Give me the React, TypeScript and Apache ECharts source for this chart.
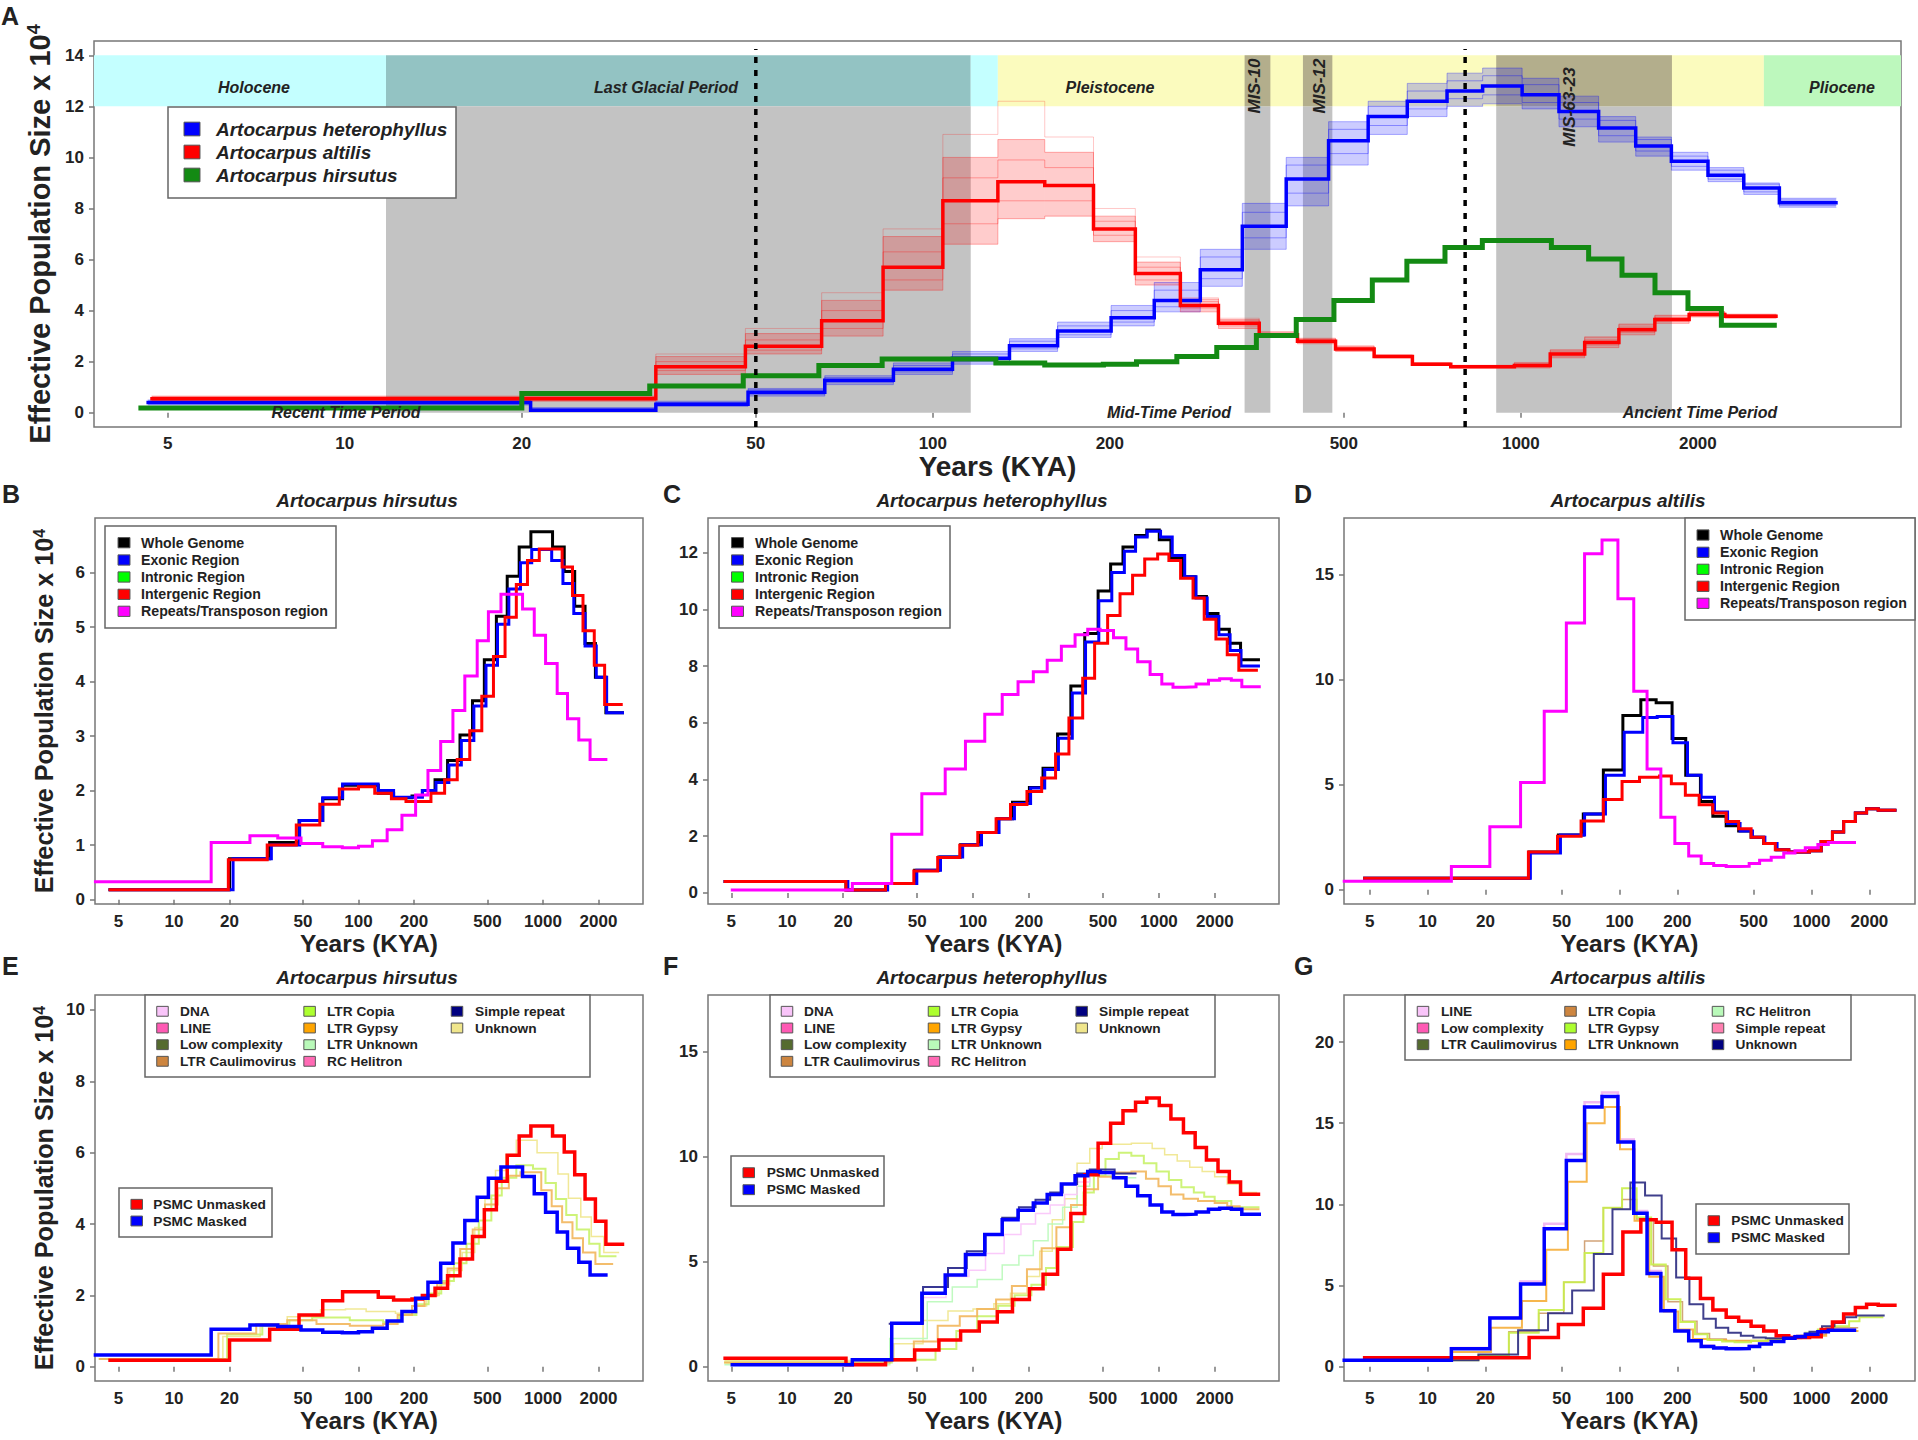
import React, { useEffect, useRef } from "react";
import * as echarts from "echarts";

const xTickValues = [5, 10, 20, 50, 100, 200, 500, 1000, 2000];

// A. hirsutus
const hirsutusX = [4.5, 20, 33, 47.6, 64, 82, 104, 128, 155, 195, 222, 260, 304, 355, 415, 481, 559, 640, 743, 860, 1127, 1304, 1486, 1691, 1924, 2193, 2698];
const hirsutusWhole = [0.18, 0.75, 1.05, 1.45, 1.85, 2.1, 2.1, 1.95, 1.87, 1.9, 2.0, 2.2, 2.55, 3.02, 3.65, 4.4, 5.2, 5.93, 6.47, 6.75, 6.47, 6.02, 5.38, 4.7, 4.08, 3.43];
const hirsutusExonicX = [4.5, 20.9, 33.7, 48, 64, 82, 127.7, 155, 222, 263, 309, 361, 422, 491, 567, 653, 755, 869, 1115, 1283, 1469, 1691, 1945, 2214, 2698];
const hirsutusExonic = [0.18, 0.75, 1.0, 1.45, 1.87, 2.12, 2.0, 1.88, 2.0, 2.15, 2.47, 2.92, 3.55, 4.3, 5.05, 5.7, 6.18, 6.42, 6.22, 5.8, 5.25, 4.65, 4.08, 3.43];
const hirsutusIntergenicX = [4.5, 19.7, 32, 46, 61.7, 78.7, 100, 122.5, 150.8, 180.9, 247, 293, 343, 401, 466, 539, 623, 717, 824, 955, 1270, 1446, 1648, 1897, 2159, 2656];
const hirsutusIntergenic = [0.18, 0.73, 1.0, 1.37, 1.75, 2.03, 2.07, 1.95, 1.85, 1.8, 1.95, 2.2, 2.57, 3.1, 3.73, 4.46, 5.18, 5.78, 6.22, 6.43, 6.1, 5.58, 4.93, 4.3, 3.58];
const hirsutusRepeatX = [3.75, 15.9, 25.8, 36.5, 48.8, 64, 81.7, 100, 119, 143, 172, 204, 238, 279, 325, 377, 440, 506, 592, 775, 897, 1033, 1194, 1358, 1564, 1800, 2193];
const hirsutusRepeat = [0.33, 1.05, 1.17, 1.13, 1.03, 0.97, 0.95, 0.98, 1.08, 1.28, 1.55, 1.92, 2.37, 2.9, 3.47, 4.1, 4.75, 5.28, 5.6, 5.33, 4.85, 4.33, 3.78, 3.32, 2.93, 2.57];
const hirsutusGypsyX = [3.96, 17.4, 27.9, 41.1, 59.2, 89.7, 136, 163, 195, 228, 267, 304, 356, 416, 485, 568, 653, 755, 979, 1115, 1270, 1445, 1648, 1924, 2371];
const hirsutusGypsy = [0.22, 0.93, 1.2, 1.3, 1.2, 1.15, 1.2, 1.45, 1.7, 2.0, 2.35, 2.75, 3.3, 3.85, 4.55, 5.0, 5.35, 5.45, 4.95, 4.5, 4.05, 3.6, 3.2, 2.88];
const hirsutusUnknownX = [3.96, 18.4, 29.3, 41.1, 62.3, 85, 110, 158.6, 206, 234, 274, 312, 365, 427, 485, 553, 630, 717, 929, 1205, 1374, 1603, 1828, 2137, 2563];
const hirsutusUnknown = [0.22, 0.85, 1.15, 1.4, 1.6, 1.62, 1.55, 1.5, 1.7, 2.0, 2.3, 2.7, 3.2, 3.9, 4.7, 5.5, 5.95, 6.35, 6.0, 5.4, 4.72, 4.2, 3.65, 3.2];
const hirsutusCopiaX = [3.96, 19.4, 30.1, 42.2, 56.1, 89.7, 136, 167, 206, 240, 281, 329, 385, 449, 525, 598, 717, 883, 1032, 1175, 1337, 1524, 1780, 2028, 2472];
const hirsutusCopia = [0.22, 0.9, 1.15, 1.3, 1.38, 1.3, 1.25, 1.45, 1.75, 2.05, 2.4, 2.9, 3.45, 4.1, 4.8, 5.3, 5.65, 5.55, 5.15, 4.7, 4.25, 3.85, 3.45, 3.1];

// A. heterophyllus
const heteroX = [4.63, 20.7, 33.8, 48.5, 65.5, 85.7, 108, 135, 163, 201, 238, 285, 336, 399, 471, 550, 641, 749, 861, 1005, 1161, 1356, 1568, 1803, 2081, 2394, 2752, 3435];
const heteroWhole = [0.4, 0.1, 0.33, 0.8, 1.27, 1.7, 2.13, 2.62, 3.2, 3.72, 4.4, 5.6, 7.3, 9.15, 10.65, 11.6, 12.2, 12.6, 12.8, 12.45, 11.8, 11.15, 10.45, 9.85, 9.3, 8.8, 8.22];
const heteroHigh = [0.5, 0.2, 0.45, 0.95, 1.45, 1.95, 2.4, 2.9, 3.55, 4.2, 5.1, 6.4, 8.2, 10.0, 11.4, 12.2, 12.9, 13.3, 13.5, 13.1, 12.4, 11.6, 10.8, 10.2, 9.6, 9.0, 8.4];
const heteroLow = [0.3, 0.05, 0.25, 0.65, 1.1, 1.5, 1.9, 2.4, 2.95, 3.4, 3.95, 4.95, 6.4, 8.1, 9.7, 10.9, 11.6, 12.0, 12.1, 11.9, 11.2, 10.6, 10.05, 9.5, 9.05, 8.55, 8.05];
const heteroRepA = [0.45, 0.15, 0.4, 0.9, 1.38, 1.85, 2.3, 2.8, 3.4, 4.0, 4.8, 6.1, 7.85, 9.7, 11.1, 12.0, 12.6, 13.0, 13.2, 12.85, 12.15, 11.45, 10.7, 10.05, 9.5, 8.95, 8.33];
const heteroRepB = [0.35, 0.08, 0.28, 0.72, 1.18, 1.6, 2.0, 2.5, 3.05, 3.55, 4.15, 5.25, 6.85, 8.6, 10.15, 11.25, 11.9, 12.3, 12.45, 12.15, 11.5, 10.85, 10.25, 9.65, 9.15, 8.65, 8.12];
const heteroExonicX = [4.63, 21.2, 34.7, 49.8, 66.8, 87.9, 111, 138, 167, 204, 243, 288, 342, 403, 475, 558, 652, 749, 865, 1021, 1180, 1377, 1585, 1820, 2104, 2417, 2767, 3435];
const heteroExonic = [0.4, 0.1, 0.33, 0.8, 1.27, 1.7, 2.13, 2.62, 3.15, 3.7, 4.35, 5.45, 7.05, 8.85, 10.3, 11.3, 12.05, 12.55, 12.75, 12.55, 11.9, 11.15, 10.4, 9.75, 9.1, 8.55, 8.0];
const heteroIntergenicX = [4.63, 20.7, 33.8, 48, 64.5, 84.8, 106, 133, 159, 195, 234, 278, 328, 389, 451, 530, 618, 722, 839, 985, 1132, 1309, 1527, 1754, 2028, 2333, 2693, 3348];
const heteroIntergenic = [0.4, 0.1, 0.33, 0.77, 1.25, 1.68, 2.13, 2.62, 3.12, 3.58, 4.05, 4.9, 6.17, 7.57, 8.8, 9.78, 10.55, 11.2, 11.77, 11.95, 11.72, 11.1, 10.4, 9.65, 8.95, 8.4, 7.85];
const heteroRepeatX = [5.06, 22.4, 36.5, 53, 70.8, 91, 115.6, 143.5, 174.6, 211, 250.6, 298.7, 354, 414, 483, 570, 665, 769, 897, 1037, 1191, 1377, 1585, 1849, 2123, 2454, 2795, 3470];
const heteroRepeat = [0.1, 0.33, 2.07, 3.5, 4.37, 5.35, 6.3, 7.0, 7.45, 7.8, 8.2, 8.7, 9.1, 9.3, 9.25, 9.0, 8.6, 8.15, 7.7, 7.37, 7.25, 7.27, 7.37, 7.5, 7.55, 7.5, 7.27];
const heteroGypsyX = [4.63, 35.6, 48, 64.5, 84.8, 105.2, 133, 161.8, 195, 234, 280.8, 336.6, 403, 471, 563, 711, 852, 995, 1161, 1356, 1625, 1997, 2333, 2722, 3435];
const heteroGypsy = [0.2, 0.3, 1.2, 1.95, 2.4, 2.75, 3.2, 3.85, 4.65, 5.65, 6.65, 7.7, 8.45, 9.05, 9.25, 9.3, 8.95, 8.6, 8.2, 8.0, 7.9, 7.8, 7.65, 7.5];
const heteroCopiaX = [4.63, 36.5, 62.8, 81.3, 105.2, 136.4, 167.4, 206, 246.8, 280.8, 345, 392.6, 446.7, 516, 609, 711, 830, 970, 1132, 1321, 1542, 1754, 1997, 2454, 3435];
const heteroCopia = [0.2, 0.33, 0.85, 1.7, 2.4, 2.9, 3.4, 3.9, 4.7, 5.7, 6.9, 8.3, 9.1, 9.9, 10.2, 10.05, 9.7, 9.3, 8.9, 8.55, 8.3, 8.1, 7.9, 7.6];
const heteroUnknownX = [4.63, 37.5, 53.8, 73.3, 100, 129.4, 159, 195, 228.4, 266.8, 311, 363, 424.6, 495.5, 711, 920.6, 1074, 1255, 1466, 1710, 1997, 2333, 2722, 3348];
const heteroUnknown = [0.3, 1.1, 2.2, 2.65, 2.75, 3.0, 3.5, 4.3, 5.5, 7.0, 8.0, 9.7, 10.4, 10.6, 10.65, 10.4, 10.1, 9.8, 9.5, 9.3, 9.05, 8.7, 8.3];
const heteroLtrUnknownX = [4.63, 35.6, 56.7, 77.3, 105.2, 143.5, 176.5, 211, 253.4, 303.5, 363, 424.6, 550, 749];
const heteroLtrUnknown = [0.1, 1.35, 3.1, 3.8, 4.15, 4.85, 5.3, 6.0, 6.8, 7.6, 8.6, 9.1, 9.0];
const heteroDnaX = [35.6, 53.8, 71.5, 95, 116.7, 147, 181, 216.8, 260, 311, 363, 424.6, 749];
const heteroDna = [2.05, 3.3, 4.3, 4.6, 5.4, 6.3, 6.8, 7.3, 7.7, 8.2, 8.8, 9.2];
const heteroSimpleX = [35.6, 53.8, 73.3, 92.5, 116.7, 143.5, 176.5, 216.8, 260, 303.5, 363, 424.6, 578, 749];
const heteroSimple = [2.05, 3.8, 4.7, 5.5, 6.3, 7.1, 7.6, 7.95, 8.3, 8.7, 9.2, 9.4, 9.2];

// A. altilis
const altilisX = [4.7, 33.8, 48, 64.7, 82.3, 104, 129, 155, 187.6, 221, 263.6, 306, 359, 417, 484, 563, 654, 760, 975, 1122, 1284, 1468, 1690, 1933, 2223, 2716];
const altilisWhole = [0.55, 1.8, 2.6, 3.6, 5.7, 8.3, 9.05, 8.9, 7.2, 5.45, 4.2, 3.5, 3.05, 2.8, 2.5, 2.2, 1.9, 1.8, 1.85, 2.3, 2.75, 3.25, 3.65, 3.85, 3.78];
const altilisHigh = [0.65, 2.2, 3.1, 4.4, 6.9, 10.0, 10.7, 10.2, 7.7, 5.9, 4.45, 3.65, 3.15, 2.9, 2.6, 2.25, 1.95, 1.85, 1.95, 2.45, 2.95, 3.45, 3.8, 3.95, 3.85];
const altilisLow = [0.45, 1.5, 2.3, 3.0, 4.8, 6.6, 7.6, 7.7, 6.7, 5.0, 3.95, 3.3, 2.95, 2.7, 2.4, 2.15, 1.85, 1.75, 1.75, 2.15, 2.55, 3.05, 3.5, 3.75, 3.7];
const altilisRepA = [0.6, 2.0, 2.85, 4.0, 6.3, 9.2, 9.9, 9.6, 7.5, 5.7, 4.35, 3.6, 3.1, 2.85, 2.55, 2.22, 1.93, 1.83, 1.9, 2.38, 2.85, 3.35, 3.72, 3.9, 3.82];
const altilisRepB = [0.5, 1.65, 2.45, 3.3, 5.2, 7.4, 8.3, 8.3, 6.95, 5.2, 4.1, 3.4, 3.0, 2.75, 2.45, 2.18, 1.87, 1.77, 1.8, 2.22, 2.65, 3.15, 3.58, 3.8, 3.74];
const altilisRepC = [0.62, 2.3, 3.3, 4.7, 7.2, 10.9, 12.2, 10.8, 8.0, 6.1, 4.5, 3.7, 3.18, 2.92, 2.62, 2.27, 1.96, 1.86, 1.97, 2.47, 2.98, 3.48, 3.82, 3.96, 3.86];
const altilisExonicX = [4.7, 34.3, 49.2, 65.7, 84.4, 105.7, 132, 157, 189.6, 225.7, 266, 312, 365, 424, 492, 571, 661, 760, 975, 1122, 1284, 1468, 1690, 1933, 2223, 2716];
const altilisExonic = [0.55, 1.75, 2.6, 3.6, 5.45, 7.5, 8.2, 8.25, 7.0, 5.45, 4.4, 3.7, 3.15, 2.8, 2.5, 2.2, 1.9, 1.8, 1.85, 2.3, 2.75, 3.25, 3.65, 3.85, 3.78];
const altilisIntergenicX = [4.7, 33.5, 47.5, 63, 82.3, 103, 127, 161.5, 186, 220, 259.6, 306, 359, 417, 484, 563, 647, 760, 975, 1122, 1284, 1468, 1690, 1933, 2223, 2716];
const altilisIntergenic = [0.55, 1.8, 2.55, 3.27, 4.3, 5.15, 5.35, 5.42, 5.05, 4.5, 4.05, 3.65, 3.25, 2.9, 2.5, 2.2, 1.9, 1.8, 1.85, 2.3, 2.75, 3.25, 3.65, 3.85, 3.78];
const altilisRepeatX = [3.68, 13.3, 21.1, 30.5, 40.5, 52.8, 65.7, 81, 98, 118.5, 139, 164, 194, 229, 266, 309, 359, 417, 473, 536, 616, 716, 819, 927, 1078, 1222, 1672];
const altilisRepeat = [0.4, 1.1, 3.0, 5.1, 8.5, 12.7, 16.0, 16.65, 13.85, 9.45, 5.75, 3.45, 2.2, 1.6, 1.25, 1.15, 1.1, 1.12, 1.25, 1.4, 1.55, 1.75, 1.85, 2.0, 2.15, 2.25];
const altilisLine = [0.4, 1.15, 3.05, 5.25, 8.8, 13.1, 16.3, 16.9, 14, 9.6, 5.9, 3.5, 2.25, 1.65, 1.3, 1.2, 1.15, 1.17, 1.3, 1.45, 1.6, 1.8, 1.9, 2.05, 2.2, 2.3];
const altilisUnknownX = [3.68, 18.4, 29.6, 42.4, 56.6, 73.4, 91.8, 113.8, 135.7, 165.6, 197, 231, 273, 317, 368, 428, 497, 577, 705, 840, 975, 1133, 1315, 1492, 1707, 2373];
const altilisUnknown = [0.4, 0.75, 2.25, 3.3, 4.7, 6.95, 9.7, 11.35, 10.55, 7.9, 5.5, 3.85, 2.95, 2.4, 2.1, 1.9, 1.8, 1.75, 1.8, 1.9, 2.15, 2.5, 2.7, 3.05, 3.15];
const altilisGypsyX = [3.68, 18.4, 26.5, 37.9, 51.2, 65.7, 82.3, 103, 122.7, 146, 174, 207.4, 247, 287, 342, 397, 484, 592, 723, 927, 1078, 1315, 1568, 1775, 2337];
const altilisGypsy = [0.4, 0.7, 2.1, 3.5, 5.2, 7.0, 9.8, 11.0, 9.2, 6.3, 4.15, 2.75, 2.0, 1.65, 1.55, 1.5, 1.6, 1.7, 1.8, 2.1, 2.3, 2.5, 2.8, 3.05];
const altilisLtrUnknownX = [3.68, 13.3, 21.4, 31, 41.5, 53.8, 67.4, 83.6, 100.5, 119.6, 142.6, 170, 202, 241, 294, 359, 461, 592, 723, 883, 1191, 1733];
const altilisLtrUnknown = [0.4, 0.9, 2.4, 4.05, 7.2, 11.4, 15, 16, 13.4, 9, 5.55, 3.4, 2.3, 1.7, 1.65, 1.6, 1.6, 1.65, 1.75, 1.9, 2.2];
const altilisCopiaX = [3.68, 18.4, 26.5, 37.9, 51.2, 65.7, 82.3, 103, 122.7, 150, 178.5, 212.6, 253, 294, 359, 461, 592, 723, 927, 1191, 1733];
const altilisCopia = [0.4, 0.7, 2.15, 3.3, 5.2, 7.75, 9.8, 10.3, 9.1, 6.2, 4.0, 2.8, 2.05, 1.7, 1.6, 1.6, 1.7, 1.8, 2.0, 2.4];

// panel A background periods, KYA
const periodNames = ["Holocene", "Last Glacial Period", "Interglacial", "Pleistocene", "Pliocene"];
const periodEdges = [3.745, 11.75, 116, 129, 2590, 4431];
const periodColors = ["#c4ffff", "#93c3c3", "#c4ffff", "#fbfbbe", "#bdf8bd"];
const grayNames = ["MIS-10", "MIS-12", "MIS-63-23"];
const grayFrom = [339, 426, 908];
const grayTo = [375, 478, 1807];
const dashedAt = [50, 804];

const regionNames = ["Whole Genome", "Exonic Region", "Intronic Region", "Intergenic Region", "Repeats/Transposon region"];
const regionColors = ["#000000", "#0000ff", "#00ff00", "#ff0000", "#ff00ff"];
const repeatNames = ["DNA", "LINE", "Low complexity", "LTR Caulimovirus", "LTR Copia", "LTR Gypsy", "LTR Unknown", "RC Helitron", "Simple repeat", "Unknown"];
const repeatColors = ["#f9c4f9", "#ff5ab4", "#556b2f", "#cd853f", "#adff2f", "#ffa500", "#b9f9b9", "#ff69b4", "#000080", "#f0e68c"];
const altilisRepeatNames = ["LINE", "Low complexity", "LTR Caulimovirus", "LTR Copia", "LTR Gypsy", "LTR Unknown", "RC Helitron", "Simple repeat", "Unknown"];
const altilisRepeatColors = ["#f9c4f9", "#ff5ab4", "#556b2f", "#cd853f", "#adff2f", "#ffa500", "#b9f9b9", "#ff7fb0", "#000080"];
const psmcNames = ["PSMC Unmasked", "PSMC Masked"];
const psmcColors = ["#ff0000", "#0000ff"];
const speciesNames = ["Artocarpus heterophyllus", "Artocarpus altilis", "Artocarpus hirsutus"];
const speciesColors = ["#0000ff", "#ff0000", "#138a13"];

const FONT = "Liberation Sans";
const INK = "#222222";
const FRAME = "#777777";

const steps = (xs: number[], ys: number[]) => xs.map((x, i) => [x, ys[Math.min(i, ys.length - 1)]]);

const stepLine = (name: string, grid: number, xs: number[], ys: number[], color: string, width: number, opacity = 1, z = 3) => ({
  name,
  type: "line",
  step: "end",
  xAxisIndex: grid,
  yAxisIndex: grid,
  data: steps(xs, ys),
  showSymbol: false,
  symbol: "none",
  silent: true,
  z,
  lineStyle: { color, width, opacity, cap: "square", join: "miter" },
});

// replicate haze in panel A: one rect per step, spanning the spread of the bootstrap lines
const hazeRects = (name: string, xs: number[], low: number[], high: number[], color: string) => ({
  name,
  type: "custom",
  xAxisIndex: 0,
  yAxisIndex: 0,
  silent: true,
  z: 2,
  clip: true,
  data: low.map((l, i) => [xs[i], xs[i + 1], l, high[i]]),
  encode: { x: [0, 1], y: [2, 3] },
  renderItem: (_params: any, api: any) => {
    const a = api.coord([api.value(0), api.value(3)]);
    const b = api.coord([api.value(1), api.value(2)]);
    return {
      type: "rect",
      shape: { x: a[0], y: a[1], width: b[0] - a[0], height: b[1] - a[1] },
      style: { fill: color, opacity: 0.2 },
    };
  },
});

const panels = [
  { left: 94, top: 41, width: 1807, height: 386, x: [3.745, 4431], y: [-0.56, 14.56], ticks: [0, 2, 4, 6, 8, 10, 12, 14], size: 29, sup: 18, gap: 38, xGap: 17, margin: 8, yTitle: true },
  { left: 95, top: 518, width: 548, height: 386, x: [3.73, 3485], y: [-0.08, 7.0], ticks: [0, 1, 2, 3, 4, 5, 6], size: 25.2, sup: 16, gap: 38, xGap: 23, margin: 9, yTitle: true },
  { left: 708, top: 518, width: 571, height: 386, x: [3.745, 4431], y: [-0.39, 13.22], ticks: [0, 2, 4, 6, 8, 10, 12], size: 24.5, sup: 16, gap: 39, xGap: 23, margin: 9, yTitle: false },
  { left: 1344, top: 518, width: 571, height: 386, x: [3.67, 3455], y: [-0.68, 17.7], ticks: [0, 5, 10, 15], size: 24.5, sup: 16, gap: 39, xGap: 23, margin: 9, yTitle: false },
  { left: 95, top: 995, width: 548, height: 386, x: [3.73, 3485], y: [-0.4, 10.42], ticks: [0, 2, 4, 6, 8, 10], size: 25.2, sup: 16, gap: 38, xGap: 22, margin: 9, yTitle: true },
  { left: 708, top: 995, width: 571, height: 386, x: [3.745, 4431], y: [-0.68, 17.71], ticks: [0, 5, 10, 15], size: 24.5, sup: 16, gap: 39, xGap: 22, margin: 9, yTitle: false },
  { left: 1344, top: 995, width: 571, height: 386, x: [3.67, 3455], y: [-0.88, 22.9], ticks: [0, 5, 10, 15, 20], size: 24.5, sup: 16, gap: 39, xGap: 22, margin: 9, yTitle: false },
];

const label = (text: string, x: number, y: number, size: number, extra: any = {}, rotation = 0) => ({
  type: "text",
  x,
  y,
  rotation,
  z: 100,
  silent: true,
  style: {
    text,
    fontFamily: FONT,
    fontSize: size,
    fontWeight: "bold",
    fill: INK,
    textAlign: "left",
    textVerticalAlign: "middle",
    align: "left",
    verticalAlign: "middle",
    ...extra,
  },
});

const ITALIC_CENTER = { fontStyle: "italic", textAlign: "center", align: "center" };

// legend box: rows run top to bottom, then the next column
const legendBox = (box: number[], names: string[], colors: string[], swatchX: number[], textX: number[], rowY: number[], size: number, extra: any = {}) => {
  const items: any[] = [
    {
      type: "rect",
      z: 99,
      silent: true,
      shape: { x: box[0], y: box[1], width: box[2] - box[0], height: box[3] - box[1] },
      style: { fill: "#ffffff", stroke: "#666666", lineWidth: 1.5 },
    },
  ];
  names.forEach((name, i) => {
    const col = Math.floor(i / rowY.length);
    const y = rowY[i % rowY.length];
    items.push({
      type: "rect",
      z: 100,
      silent: true,
      shape: { x: swatchX[col] - size * 0.42, y: y - size * 0.36, width: size * 0.84, height: size * 0.72 },
      style: { fill: colors[i], stroke: "#555555", lineWidth: 1 },
    });
    items.push(label(name, textX[col], y, size, extra));
  });
  return items;
};

const App: React.FC = () => {
  const chartRef = useRef<HTMLDivElement>(null);

  useEffect(() => {
    if (!chartRef.current) return;
    const chart = echarts.init(chartRef.current, undefined, { renderer: "svg" });

    const grid = panels.map((p) => ({
      show: true,
      left: p.left,
      top: p.top,
      width: p.width,
      height: p.height,
      borderColor: FRAME,
      borderWidth: 1.5,
      backgroundColor: "transparent",
      containLabel: false,
    }));

    const xAxis = panels.map((p, i) => ({
      type: "log",
      logBase: 10,
      gridIndex: i,
      min: p.x[0],
      max: p.x[1],
      name: "Years (KYA)",
      nameLocation: "middle",
      nameGap: p.xGap,
      nameTextStyle: { fontFamily: FONT, fontSize: i === 0 ? 28 : 24.5, fontWeight: "bold", color: INK, verticalAlign: "top" },
      axisLine: { show: false },
      splitLine: { show: false },
      minorTick: { show: false },
      axisTick: { show: true, length: 5, customValues: xTickValues, lineStyle: { color: FRAME, width: 1.5 } },
      axisLabel: {
        show: true,
        customValues: xTickValues,
        margin: p.margin,
        fontFamily: FONT,
        fontSize: 17,
        fontWeight: "bold",
        color: INK,
        hideOverlap: false,
        formatter: (v: number) => String(Math.round(v)),
      },
    }));

    const yAxis = panels.map((p, i) => ({
      type: "value",
      gridIndex: i,
      min: p.y[0],
      max: p.y[1],
      name: p.yTitle ? "Effective Population Size x 10{sup|4}" : "",
      nameLocation: "middle",
      nameRotate: 90,
      nameGap: p.gap,
      nameTextStyle: {
        fontFamily: FONT,
        fontSize: p.size,
        fontWeight: "bold",
        color: INK,
        rich: { sup: { fontFamily: FONT, fontSize: p.sup, fontWeight: "bold", color: INK, verticalAlign: "top", lineHeight: p.size } },
      },
      axisLine: { show: false },
      splitLine: { show: false },
      axisTick: { show: true, length: 5, customValues: p.ticks, lineStyle: { color: FRAME, width: 1.5 } },
      axisLabel: {
        show: true,
        customValues: p.ticks,
        margin: 10,
        fontFamily: FONT,
        fontSize: 17,
        fontWeight: "bold",
        color: INK,
        formatter: (v: number) => String(Math.round(v)),
      },
    }));

    const topBands = periodNames.map((name, i) => [
      { name, xAxis: periodEdges[i], yAxis: 12, itemStyle: { color: periodColors[i] } },
      { xAxis: periodEdges[i + 1], yAxis: 14 },
    ]);
    const grayBands = grayNames.map((name, i) => [
      { name, xAxis: grayFrom[i], yAxis: 0, itemStyle: { color: "#c3c3c3" } },
      { xAxis: grayTo[i], yAxis: 12 },
    ]);
    const grayTops = grayNames.map((name, i) => [
      { name: name + " top", xAxis: grayFrom[i], yAxis: 12, itemStyle: { color: "#b3ae8c" } },
      { xAxis: grayTo[i], yAxis: 14 },
    ]);
    const glacialBand = [
      { name: "Last Glacial", xAxis: periodEdges[1], yAxis: 0, itemStyle: { color: "#c3c3c3" } },
      { xAxis: periodEdges[2], yAxis: 12 },
    ];

    const series: any[] = [
      {
        name: "Periods",
        type: "line",
        xAxisIndex: 0,
        yAxisIndex: 0,
        data: [],
        silent: true,
        z: 1,
        markArea: {
          silent: true,
          label: { show: false },
          itemStyle: { opacity: 1 },
          data: [...topBands, glacialBand, ...grayBands, ...grayTops],
        },
      },
      hazeRects("heterophyllus spread", heteroX, heteroLow, heteroHigh, "#0000ff"),
      hazeRects("altilis spread", altilisX, altilisLow, altilisHigh, "#ff0000"),
      stepLine("heterophyllus replicate 1", 0, heteroX, heteroHigh, "#0000ff", 1, 0.3, 2),
      stepLine("heterophyllus replicate 2", 0, heteroX, heteroLow, "#0000ff", 1, 0.3, 2),
      stepLine("heterophyllus replicate 3", 0, heteroX, heteroRepA, "#0000ff", 1, 0.35, 2),
      stepLine("heterophyllus replicate 4", 0, heteroX, heteroRepB, "#0000ff", 1, 0.35, 2),
      stepLine("altilis replicate 1", 0, altilisX, altilisHigh, "#ff0000", 1, 0.3, 2),
      stepLine("altilis replicate 2", 0, altilisX, altilisLow, "#ff0000", 1, 0.3, 2),
      stepLine("altilis replicate 3", 0, altilisX, altilisRepA, "#ff0000", 1, 0.3, 2),
      stepLine("altilis replicate 4", 0, altilisX, altilisRepB, "#ff0000", 1, 0.3, 2),
      stepLine("altilis replicate 5", 0, altilisX, altilisRepC, "#ff0000", 1, 0.22, 2),
      stepLine(speciesNames[0], 0, heteroX, heteroWhole, "#0000ff", 3.5),
      stepLine(speciesNames[1], 0, altilisX, altilisWhole, "#ff0000", 3.5),
      stepLine(speciesNames[2], 0, hirsutusX, hirsutusWhole, "#138a13", 5),
      ...dashedAt.map((x) => ({
        name: "Divergence " + x,
        type: "line",
        xAxisIndex: 0,
        yAxisIndex: 0,
        data: [[x, -0.56], [x, 14.25]],
        showSymbol: false,
        symbol: "none",
        silent: true,
        z: 5,
        lineStyle: { color: "#000000", width: 3.5, type: [6, 7] },
      })),

      // B
      stepLine(regionNames[0], 1, hirsutusX, hirsutusWhole, regionColors[0], 3),
      stepLine(regionNames[1], 1, hirsutusExonicX, hirsutusExonic, regionColors[1], 3),
      stepLine(regionNames[3], 1, hirsutusIntergenicX, hirsutusIntergenic, regionColors[3], 3),
      stepLine(regionNames[4], 1, hirsutusRepeatX, hirsutusRepeat, regionColors[4], 3),
      // C
      stepLine(regionNames[0], 2, heteroX, heteroWhole, regionColors[0], 3),
      stepLine(regionNames[1], 2, heteroExonicX, heteroExonic, regionColors[1], 3),
      stepLine(regionNames[3], 2, heteroIntergenicX, heteroIntergenic, regionColors[3], 3),
      stepLine(regionNames[4], 2, heteroRepeatX, heteroRepeat, regionColors[4], 3),
      // D
      stepLine(regionNames[0], 3, altilisX, altilisWhole, regionColors[0], 3),
      stepLine(regionNames[1], 3, altilisExonicX, altilisExonic, regionColors[1], 3),
      stepLine(regionNames[3], 3, altilisIntergenicX, altilisIntergenic, regionColors[3], 3),
      stepLine(regionNames[4], 3, altilisRepeatX, altilisRepeat, regionColors[4], 3),
      // E
      stepLine("Unknown", 4, hirsutusUnknownX, hirsutusUnknown, "#f0e68c", 1.5, 0.9, 2),
      stepLine("LTR Copia", 4, hirsutusCopiaX, hirsutusCopia, "#c9f26a", 2, 0.9, 2),
      stepLine("LTR Gypsy", 4, hirsutusGypsyX, hirsutusGypsy, "#f2b65c", 2, 0.9, 2),
      stepLine(psmcNames[0], 4, hirsutusX, hirsutusWhole, psmcColors[0], 3.5),
      stepLine(psmcNames[1], 4, hirsutusRepeatX, hirsutusRepeat, psmcColors[1], 3.5),
      // F
      stepLine("Unknown", 5, heteroUnknownX, heteroUnknown, "#f0e68c", 1.5, 0.9, 2),
      stepLine("LTR Unknown", 5, heteroLtrUnknownX, heteroLtrUnknown, "#b9f9b9", 1.5, 0.9, 2),
      stepLine("DNA", 5, heteroDnaX, heteroDna, "#f9c4f9", 1.5, 0.9, 2),
      stepLine("LTR Copia", 5, heteroCopiaX, heteroCopia, "#c9f26a", 2, 0.9, 2),
      stepLine("LTR Gypsy", 5, heteroGypsyX, heteroGypsy, "#f2b65c", 2, 0.9, 2),
      stepLine("Simple repeat", 5, heteroSimpleX, heteroSimple, "#222288", 2, 0.9, 2),
      stepLine(psmcNames[0], 5, heteroX, heteroWhole, psmcColors[0], 3.5),
      stepLine(psmcNames[1], 5, heteroRepeatX, heteroRepeat, psmcColors[1], 3.5),
      // G
      stepLine("LINE", 6, altilisRepeatX, altilisLine, "#f0b0f0", 2.5, 0.9, 2),
      stepLine("LTR Copia", 6, altilisCopiaX, altilisCopia, "#cd9a6a", 1.5, 0.9, 2),
      stepLine("LTR Unknown", 6, altilisLtrUnknownX, altilisLtrUnknown, "#f5ae3a", 2, 0.9, 2),
      stepLine("LTR Gypsy", 6, altilisGypsyX, altilisGypsy, "#c9ee4a", 2, 0.9, 2),
      stepLine("Unknown", 6, altilisUnknownX, altilisUnknown, "#2a2a80", 2, 0.9, 2),
      stepLine(psmcNames[0], 6, altilisX, altilisWhole, psmcColors[0], 3.5),
      stepLine(psmcNames[1], 6, altilisRepeatX, altilisRepeat, psmcColors[1], 3.5),
    ];

    const regionRows = [542.7, 560, 577, 594.3, 611.3];
    const repeatRows = [1011.3, 1028, 1044.7, 1061.3];
    const graphic: any[] = [
      // panel letters
      label("A", 1, 16, 25),
      label("B", 2, 494, 25),
      label("C", 663, 494, 25),
      label("D", 1294, 494, 25),
      label("E", 2, 966, 25),
      label("F", 663, 966, 25),
      label("G", 1294, 966, 25),
      // panel A annotations
      label("Holocene", 254, 87, 16, ITALIC_CENTER),
      label("Last Glacial Period", 666, 87, 16, ITALIC_CENTER),
      label("Pleistocene", 1110, 87, 16, ITALIC_CENTER),
      label("Pliocene", 1842, 87, 16, ITALIC_CENTER),
      label("MIS-10", 1254, 86, 17, ITALIC_CENTER, Math.PI / 2),
      label("MIS-12", 1319, 86, 17, ITALIC_CENTER, Math.PI / 2),
      label("MIS-63-23", 1569, 107, 17, ITALIC_CENTER, Math.PI / 2),
      label("Recent Time Period", 346, 412, 16, ITALIC_CENTER),
      label("Mid-Time Period", 1169, 412, 16, ITALIC_CENTER),
      label("Ancient Time Period", 1700, 412, 16, ITALIC_CENTER),
      // legends
      ...legendBox([168, 107, 456, 198], speciesNames, speciesColors, [192], [216], [129, 152, 175], 19, { fontStyle: "italic" }),
      ...legendBox([105, 526, 336, 628], regionNames, regionColors, [124], [141], regionRows, 14.2),
      ...legendBox([719, 526, 950, 628], regionNames, regionColors, [737.5], [755], regionRows, 14.2),
      ...legendBox([1685, 518, 1915, 620], regionNames, regionColors, [1703], [1720], [535, 552.3, 569.3, 586.3, 603.3], 14.2),
      ...legendBox([145, 995, 590, 1077], repeatNames, repeatColors, [162.5, 309.6, 457], [180, 327, 475], repeatRows, 13.7),
      ...legendBox([770, 995, 1215, 1077], repeatNames, repeatColors, [787, 934, 1081.7], [804, 951, 1099], repeatRows, 13.7),
      ...legendBox([1405, 995, 1851, 1060], altilisRepeatNames, altilisRepeatColors, [1423, 1570.5, 1718], [1441, 1588, 1735.5], repeatRows.slice(0, 3), 13.7),
      ...legendBox([119, 1188, 272, 1237], psmcNames, psmcColors, [136.7], [153.3], [1204.3, 1221], 13.7),
      ...legendBox([731, 1156, 884, 1206], psmcNames, psmcColors, [748.75], [766.7], [1172.7, 1189.7], 13.7),
      ...legendBox([1696, 1204, 1849, 1254], psmcNames, psmcColors, [1713.8], [1731.3], [1220.7, 1237.7], 13.7),
    ];

    const titleStyle = { fontFamily: FONT, fontSize: 19, fontWeight: "bold", fontStyle: "italic", color: INK };
    const title = [
      { text: speciesNames[2], left: 367, top: 491, textAlign: "center", textStyle: titleStyle, padding: 0 },
      { text: speciesNames[0], left: 992, top: 491, textAlign: "center", textStyle: titleStyle, padding: 0 },
      { text: speciesNames[1], left: 1628, top: 491, textAlign: "center", textStyle: titleStyle, padding: 0 },
      { text: speciesNames[2], left: 367, top: 968, textAlign: "center", textStyle: titleStyle, padding: 0 },
      { text: speciesNames[0], left: 992, top: 968, textAlign: "center", textStyle: titleStyle, padding: 0 },
      { text: speciesNames[1], left: 1628, top: 968, textAlign: "center", textStyle: titleStyle, padding: 0 },
    ];

    chart.setOption({ animation: false, backgroundColor: "#ffffff", title, grid, xAxis, yAxis, series, graphic });

    return () => {
      chart.dispose();
    };
  }, []);

  return <div ref={chartRef} style={{ position: "absolute", left: 0, top: 0, width: 1918, height: 1440 }} />;
};

export default App;
